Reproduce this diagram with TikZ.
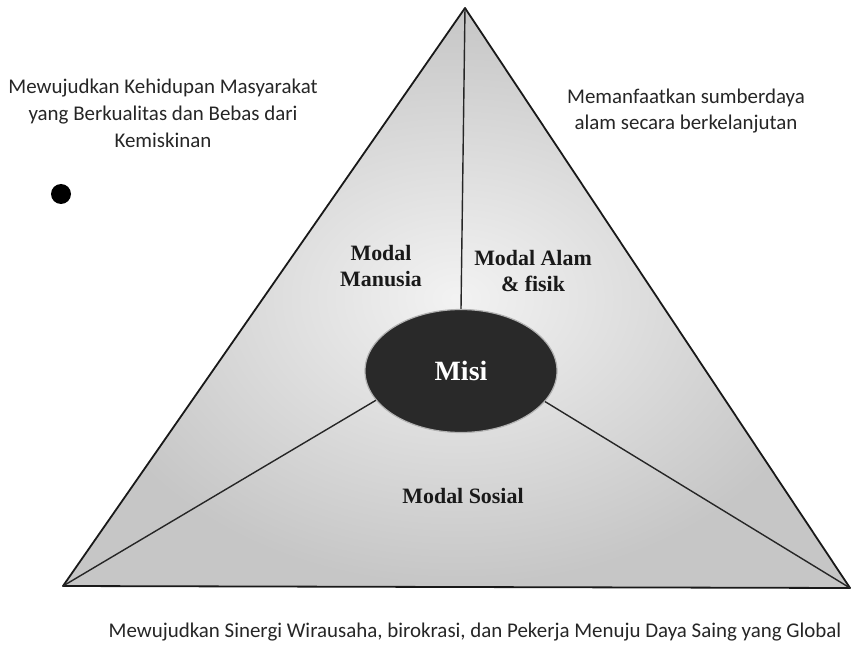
\documentclass[tikz,border=0pt]{standalone}
\usepackage{fontspec}
\setmainfont{Liberation Serif}
\newfontfamily\calib{Carlito}
\usetikzlibrary{shapes.geometric}
\begin{document}
\begin{tikzpicture}[x=1bp,y=-1bp,
  outtext/.style={align=center,font=\calib\fontsize{21}{27}\selectfont,text=black!85},
  bottomtext/.style={align=center,font=\calib\fontsize{21}{24}\selectfont,text=black!85},
  modal/.style={align=center,font=\bfseries\fontsize{22}{26}\selectfont,text=black!90},
  misistyle/.style={ellipse,fill=black!84,draw=black!30,line width=1.2pt,minimum width=192bp,minimum height=123bp,inner sep=0pt,text=white,font=\bfseries\fontsize{28}{30}\selectfont},
  edge/.style={line width=1.8bp,black!90,line join=round},
  inner/.style={line width=1.4bp,black!85}]
\useasboundingbox (0,0) rectangle (856,645);
\fill[white] (0,0) rectangle (856,645);
\coordinate (apex) at (465,8);
\coordinate (bl) at (63,586);
\coordinate (br) at (850,588);
\shade[inner color=gray!10,outer color=gray!45] (apex) -- (bl) -- (br) -- cycle;
\draw[edge] (apex) -- (bl) -- (br) -- cycle;
\node[misistyle] (misi) at (461,371) {Misi};
\draw[inner] (apex) -- (misi.north);
\draw[inner] (misi.199) -- (bl);
\draw[inner] (misi.340) -- (br);
\node[modal] (manusia) at (381,266) {Modal\\Manusia};
\node[modal] (alam) at (533,271) {Modal Alam\\\& fisik};
\node[modal] (sosial) at (463,496) {Modal Sosial};
\node[outtext] (kehidupan) at (163,113) {Mewujudkan Kehidupan Masyarakat\\yang Berkualitas dan Bebas dari\\Kemiskinan};
\node[outtext] (sumberdaya) at (686,111) {Memanfaatkan sumberdaya\\alam secara berkelanjutan};
\node[bottomtext] (sinergi) at (475,632) {Mewujudkan Sinergi Wirausaha, birokrasi, dan Pekerja Menuju Daya Saing yang Global};
\fill[black] (61,194) circle (10);
\end{tikzpicture}
\end{document}
